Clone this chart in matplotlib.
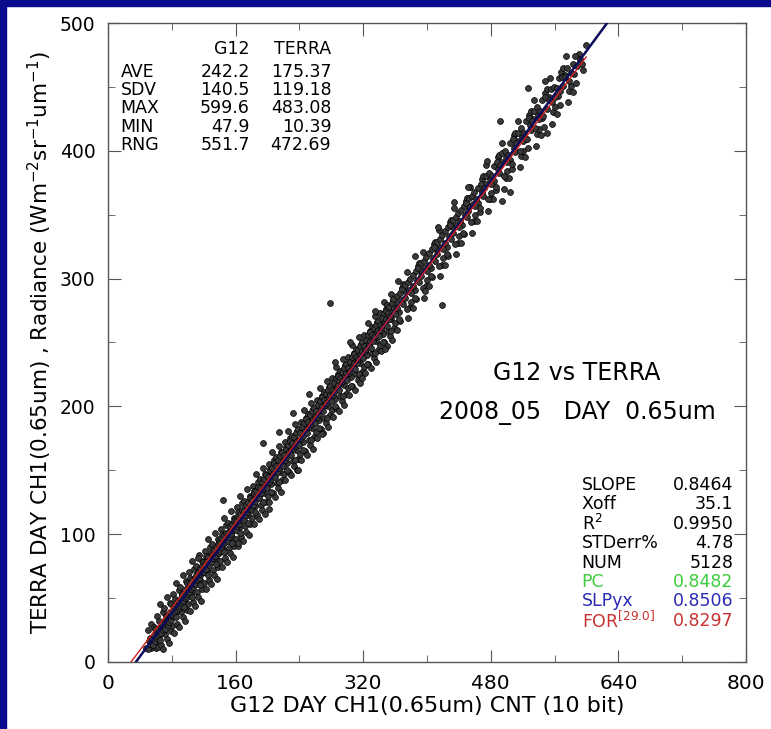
import matplotlib
matplotlib.use("Agg")
import matplotlib.pyplot as plt
from matplotlib.ticker import MultipleLocator

plt.rcParams['font.family'] = ['DejaVu Sans']

# matched G12 counts / TERRA radiances (a sample of the cloud)
# dense core of the cloud
g12 = [48, 50, 51, 53, 55, 56, 58, 59,
       60, 61, 62, 63, 64, 65, 66, 67, 68, 69,
       70, 71, 72, 73, 74, 75, 76, 77, 78, 79,
       80, 81, 82, 83, 84, 85, 86, 87, 88, 89,
       90, 91, 92, 93, 94, 95, 96, 97, 98, 99,
       100, 101, 102, 103, 104, 105, 106, 107, 108, 109,
       110, 111, 112, 113, 114, 115, 116, 117, 118, 119, 113,
       120, 121, 122, 123, 124, 125, 126, 127, 128, 129,
       130, 131, 132, 133, 134, 135, 136, 137, 138, 139,
       140, 141, 142, 143, 144, 145, 146, 147, 148, 149, 144,
       150, 151, 152, 153, 154, 155, 156, 157, 158, 159,
       160, 161, 162, 163, 163, 164, 165, 166, 167, 168, 169,
       170, 171, 172, 173, 174, 175, 176, 177, 178, 179,
       180, 181, 182, 183, 184, 185, 186, 187, 188, 189,
       190, 191, 192, 193, 194, 194, 195, 196, 197, 198, 199,
       200, 201, 202, 203, 204, 205, 206, 207, 208, 209, 202,
       210, 211, 212, 213, 214, 215, 216, 217, 218, 219, 215,
       220, 221, 222, 223, 224, 225, 226, 227, 228, 229,
       230, 231, 232, 233, 234, 235, 236, 237, 238, 239, 232, 238,
       240, 241, 242, 243, 244, 245, 246, 247, 248, 249,
       250, 251, 252, 253, 254, 255, 256, 257, 258, 259, 252,
       260, 261, 262, 263, 264, 265, 266, 267, 268, 269, 268,
       270, 271, 272, 273, 274, 275, 276, 277, 278, 278, 279,
       280, 281, 282, 283, 284, 285, 286, 287, 288, 289, 285,
       290, 291, 292, 293, 294, 295, 296, 297, 298, 299,
       300, 301, 302, 303, 304, 305, 306, 307, 308, 309, 303,
       310, 311, 312, 313, 314, 315, 316, 317, 318, 319, 318,
       320, 321, 322, 323, 324, 325, 326, 327, 328, 329,
       330, 331, 332, 333, 334, 335, 336, 337, 338, 339, 335,
       340, 341, 342, 343, 344, 345, 346, 347, 348, 349, 347,
       350, 351, 352, 353, 354, 355, 356, 357, 358, 359,
       360, 362, 363, 365, 366, 368, 369, 364,
       370, 372, 373, 375, 376, 378, 379,
       380, 382, 383, 385, 386, 388, 389, 385,
       390, 392, 393, 395, 396, 398, 399, 397,
       400, 402, 403, 405, 406, 408, 409,
       410, 412, 413, 415, 416, 418, 419, 419, 414,
       420, 422, 423, 425, 426, 428, 429,
       430, 432, 433, 435, 436, 438, 439, 434,
       440, 442, 443, 445, 446, 448, 449,
       450, 452, 453, 455, 456, 458, 459, 452,
       460, 462, 464, 466, 468, 469,
       470, 472, 474, 476, 478, 479, 475,
       480, 482, 484, 486, 488, 489,
       491, 494, 490, 492, 494, 496, 498, 499,
       500, 502, 504, 504, 506, 508, 509,
       510, 512, 514, 516, 518, 519,
       520, 522, 524, 526, 527, 528, 529,
       530, 532, 534, 536, 538, 539,
       540, 542, 544, 546, 548, 548, 550,
       551, 553, 555, 557, 559,
       561, 563, 565, 567, 569,
       571, 573, 575, 578,
       581, 583, 586, 588,
       592, 596, 599.6]
terra = [11, 10, 16, 14, 18, 13, 21, 16,
         19, 24, 20, 26, 22, 17, 27, 23, 30, 25,
         28, 33, 26, 31, 36, 29, 34, 31, 39, 33,
         36, 41, 37, 44, 39, 35, 45, 41, 48, 42,
         44, 50, 46, 53, 48, 43, 54, 50, 57, 51,
         53, 58, 55, 62, 57, 51, 64, 59, 61, 66,
         61, 68, 64, 70, 66, 60, 73, 69, 75, 70, 81,
         74, 70, 77, 73, 79, 68, 82, 76, 80, 85,
         78, 84, 81, 88, 83, 77, 90, 86, 92, 85,
         87, 93, 90, 97, 92, 86, 99, 94, 101, 96, 127,
         95, 101, 98, 106, 100, 93, 108, 103, 110, 104,
         103, 110, 106, 93, 114, 108, 101, 116, 111, 119, 112,
         111, 118, 115, 123, 117, 109, 125, 120, 128, 121,
         119, 127, 123, 132, 126, 117, 134, 129, 137, 130,
         128, 136, 132, 141, 171, 135, 125, 143, 138, 146, 139,
         136, 145, 141, 150, 143, 133, 152, 147, 156, 148, 120,
         145, 153, 149, 158, 152, 141, 161, 155, 164, 157, 180,
         153, 162, 158, 167, 160, 150, 170, 164, 173, 166,
         162, 171, 167, 176, 169, 158, 179, 173, 182, 174, 195, 150,
         170, 179, 175, 184, 177, 166, 187, 181, 190, 183,
         179, 188, 184, 193, 186, 174, 196, 190, 199, 192, 210,
         187, 196, 192, 201, 194, 183, 204, 198, 207, 200, 178,
         196, 205, 201, 210, 203, 191, 213, 207, 216, 281, 209,
         204, 213, 209, 218, 211, 200, 222, 215, 224, 217, 235,
         213, 222, 218, 227, 220, 208, 230, 224, 233, 226,
         221, 230, 226, 235, 228, 216, 239, 232, 241, 234, 250,
         229, 239, 234, 244, 237, 225, 247, 241, 250, 243, 222,
         238, 247, 243, 252, 245, 233, 256, 249, 258, 251,
         246, 256, 251, 261, 254, 242, 264, 258, 267, 260, 275,
         255, 264, 260, 269, 262, 250, 273, 266, 275, 268, 245,
         263, 273, 268, 278, 271, 259, 281, 275, 284, 277,
         272, 277, 286, 268, 289, 283, 292, 298,
         280, 285, 295, 276, 297, 291, 300,
         289, 294, 303, 285, 306, 299, 308, 318,
         297, 302, 312, 293, 314, 308, 317, 290,
         306, 311, 320, 302, 323, 316, 325,
         314, 319, 329, 310, 331, 325, 334, 279, 340,
         323, 328, 337, 319, 340, 333, 342,
         331, 336, 346, 327, 348, 342, 351, 360,
         340, 345, 354, 336, 357, 350, 359,
         348, 353, 363, 344, 365, 358, 368, 372,
         357, 362, 371, 355, 374, 368,
         365, 371, 380, 362, 383, 377, 392,
         374, 380, 388, 372, 391, 386,
         423, 361, 383, 389, 398, 380, 400, 394,
         391, 397, 368, 406, 390, 409, 402,
         399, 406, 414, 400, 418, 411,
         408, 414, 423, 409, 449, 426, 420,
         416, 423, 431, 418, 434, 428,
         425, 431, 440, 427, 455, 442, 414,
         433, 440, 448, 438, 450,
         442, 449, 457, 447, 458,
         451, 458, 465, 455,
         461, 468, 474, 466,
         472, 463, 483]

# outer, more scattered part of the band
g12_spread = [50.5, 51.5, 52.5, 53.5, 54.5, 55.5, 56.5, 57.5, 58.5, 59.5,
              60.5, 61.5, 62.5, 63.5, 64.5, 65.5, 66.5, 67.5, 68.5, 69.5,
              70.5, 71.5, 72.5, 73.5, 74.5, 75.5, 76.5, 77.5, 78.5, 79.5,
              80.5, 81.5, 82.5, 83.5, 84.5, 85.5, 86.5, 87.5, 88.5, 89.5,
              90.5, 91.5, 92.5, 93.5, 94.5, 95.5, 96.5, 97.5, 98.5, 99.5,
              100.5, 101.5, 102.5, 103.5, 104.5, 105.5, 106.5, 107.5, 108.5, 109.5,
              110.5, 111.5, 112.5, 113.5, 114.5, 115.5, 116.5, 117.5, 118.5, 119.5,
              120.5, 121.5, 122.5, 123.5, 124.5, 125.5, 126.5, 127.5, 128.5, 129.5,
              130.5, 131.5, 132.5, 133.5, 134.5, 135.5, 136.5, 137.5, 138.5, 139.5,
              140.5, 141.5, 142.5, 143.5, 144.5, 145.5, 146.5, 147.5, 148.5, 149.5,
              150.5, 151.5, 152.5, 153.5, 154.5, 155.5, 156.5, 157.5, 158.5, 159.5,
              160.5, 161.5, 162.5, 163.5, 164.5, 165.5, 166.5, 167.5, 168.5, 169.5,
              170.5, 171.5, 172.5, 173.5, 174.5, 175.5, 176.5, 177.5, 178.5, 179.5,
              180.5, 181.5, 182.5, 183.5, 184.5, 185.5, 186.5, 187.5, 188.5, 189.5,
              190.5, 191.5, 192.5, 193.5, 194.5, 195.5, 196.5, 197.5, 198.5, 199.5,
              200.5, 201.5, 202.5, 203.5, 204.5, 205.5, 206.5, 207.5, 208.5, 209.5,
              210.5, 211.5, 212.5, 213.5, 214.5, 215.5, 216.5, 217.5, 218.5, 219.5,
              220.5, 221.5, 222.5, 223.5, 224.5, 225.5, 226.5, 227.5, 228.5, 229.5,
              230.5, 231.5, 232.5, 233.5, 234.5, 235.5, 236.5, 237.5, 238.5, 239.5,
              240.5, 241.5, 242.5, 243.5, 244.5, 245.5, 246.5, 247.5, 248.5, 249.5,
              250.5, 251.5, 252.5, 253.5, 254.5, 255.5, 256.5, 257.5, 258.5, 259.5,
              260.5, 261.5, 262.5, 263.5, 264.5, 265.5, 266.5, 267.5, 268.5, 269.5,
              270.5, 271.5, 272.5, 273.5, 274.5, 275.5, 276.5, 277.5, 278.5, 279.5,
              280.5, 281.5, 282.5, 283.5, 284.5, 285.5, 286.5, 287.5, 288.5, 289.5,
              290.5, 291.5, 292.5, 293.5, 294.5, 295.5, 296.5, 297.5, 298.5, 299.5,
              300.5, 301.5, 302.5, 303.5, 304.5, 305.5, 306.5, 307.5, 308.5, 309.5,
              310.5, 311.5, 312.5, 313.5, 314.5, 315.5, 316.5, 317.5, 318.5, 319.5,
              320.5, 321.5, 322.5, 323.5, 324.5, 325.5, 326.5, 327.5, 328.5, 329.5,
              330.5, 331.5, 332.5, 333.5, 334.5, 335.5, 336.5, 337.5, 338.5, 339.5,
              340.5, 341.5, 342.5, 343.5, 344.5, 345.5, 346.5, 347.5, 348.5, 349.5,
              350.5, 351.5, 352.5, 353.5, 354.5, 355.5, 356.5, 357.5, 358.5, 359.5,
              360.5, 362.5, 364.5, 366.5, 368.5,
              370.5, 372.5, 374.5, 376.5, 378.5,
              380.5, 382.5, 384.5, 386.5, 388.5,
              390.5, 392.5, 394.5, 396.5, 398.5,
              400.5, 402.5, 404.5, 406.5, 408.5,
              410.5, 412.5, 414.5, 416.5, 418.5,
              420.5, 422.5, 424.5, 426.5, 428.5,
              430.5, 432.5, 434.5, 436.5, 438.5,
              440.5, 442.5, 444.5, 446.5, 448.5,
              450.5, 452.5, 454.5, 456.5, 458.5,
              460.5, 462.5, 464.5, 466.5, 468.5,
              470.5, 472.5, 474.5, 476.5, 478.5,
              480.5, 482.5, 484.5, 486.5, 488.5,
              490.5, 492.5, 494.5, 496.5, 498.5,
              500.5, 502.5, 504.5, 506.5, 508.5,
              510.5, 512.5, 514.5, 516.5, 518.5,
              520.5, 522.5, 524.5, 526.5, 528.5,
              530.5, 532.5, 534.5, 536.5, 538.5,
              540.5, 542.5, 544.5, 546.5, 548.5,
              550.5, 552.5, 554.5, 556.5, 558.5,
              560.5, 562.5, 564.5, 566.5, 568.5,
              570.5, 572.5, 574.5, 576.5, 578.5,
              580.5, 582.5, 584.5, 586.5,
              590.5, 594.5]
terra_spread = [25, 12, 19, 11, 30, 14, 13, 27, 15, 26,
                11, 36, 12, 32, 20, 45, 13, 30, 39, 10.5,
                42, 22, 36, 18, 51, 31, 15, 46, 24, 45,
                28, 53, 23, 49, 37, 62, 30, 47, 56, 27,
                59, 39, 53, 35, 68, 48, 32, 63, 41, 62,
                45, 70, 40, 66, 54, 79, 47, 64, 73, 44,
                75, 55, 69, 51, 84, 64, 48, 79, 57, 78,
                62, 87, 57, 83, 71, 96, 64, 81, 90, 61,
                92, 72, 86, 68, 101, 81, 65, 96, 74, 95,
                79, 104, 74, 100, 88, 113, 81, 98, 107, 78,
                109, 89, 103, 85, 118, 98, 82, 113, 91, 112,
                96, 121, 91, 117, 105, 130, 98, 115, 124, 95,
                126, 106, 120, 102, 135, 115, 99, 130, 108, 129,
                113, 138, 108, 134, 122, 147, 115, 132, 141, 112,
                143, 123, 137, 119, 152, 132, 116, 147, 125, 146,
                130, 155, 125, 151, 139, 164, 132, 149, 158, 129,
                160, 140, 154, 136, 169, 149, 133, 164, 142, 163,
                147, 172, 142, 168, 156, 181, 149, 166, 175, 146,
                177, 157, 171, 153, 186, 166, 150, 181, 159, 180,
                163, 188, 158, 184, 172, 197, 165, 182, 191, 162,
                194, 174, 188, 170, 203, 183, 167, 198, 176, 197,
                180, 205, 175, 201, 189, 214, 182, 199, 208, 179,
                211, 191, 205, 187, 220, 200, 184, 215, 193, 214,
                197, 222, 192, 218, 206, 231, 199, 216, 225, 196,
                228, 208, 222, 204, 237, 217, 201, 232, 210, 231,
                214, 239, 209, 235, 223, 248, 216, 233, 242, 213,
                245, 225, 239, 221, 254, 234, 218, 249, 227, 248,
                231, 256, 226, 252, 240, 265, 233, 250, 259, 230,
                262, 242, 256, 238, 271, 251, 235, 266, 244, 265,
                248, 273, 243, 269, 257, 282, 250, 267, 276, 247,
                279, 259, 273, 255, 288, 268, 252, 283, 261, 282,
                265, 260, 274, 267, 293,
                296, 290, 305, 269, 278,
                282, 277, 291, 284, 310,
                312, 306, 321, 285, 294,
                299, 294, 308, 301, 327,
                329, 323, 338, 302, 311,
                316, 311, 325, 318, 344,
                346, 340, 355, 319, 328,
                333, 328, 342, 335, 361,
                363, 357, 372, 336, 345,
                350, 345, 359, 352, 378,
                380, 374, 389, 353, 362,
                367, 362, 376, 369, 395,
                397, 391, 406, 370, 379,
                384, 379, 393, 386, 412,
                414, 408, 423, 387, 396,
                400, 395, 409, 402, 428,
                431, 425, 440, 404, 413,
                417, 412, 426, 419, 445,
                448, 442, 457, 421, 430,
                434, 429, 443, 436, 462,
                465, 459, 474, 438, 447,
                451, 446, 460, 453,
                476, 468]

# statistics boxes
stat_names = ['AVE', 'SDV', 'MAX', 'MIN', 'RNG']
g12_stats = ['242.2', '140.5', '599.6', '47.9', '551.7']
terra_stats = ['175.37', '119.18', '483.08', '10.39', '472.69']

fit_names = ['SLOPE', 'Xoff', 'R$^{2}$', 'STDerr%', 'NUM', 'PC', 'SLPyx',
             'FOR$^{[29.0]}$']
fit_values = ['0.8464', '35.1', '0.9950', '4.78', '5128', '0.8482', '0.8506',
              '0.8297']
fit_colors = ['black', 'black', 'black', 'black', 'black', '#3ccc3c',
              '#2a2ab4', '#c83232']

slope, xoff = 0.8464, 35.1
for_slope, for_off = 0.8297, 29.0
g12_max = 599.6

fig = plt.figure(figsize=(7.71, 7.29), dpi=100)
fig.patch.set_facecolor('white')

# dark blue frame strip on the left and top edges
fig.patches.append(plt.Rectangle((0, 0), 0.008, 1, transform=fig.transFigure,
                                 color='#0a0a8c', zorder=0))
fig.patches.append(plt.Rectangle((0, 0.992), 1, 0.008, transform=fig.transFigure,
                                 color='#0a0a8c', zorder=0))

ax = fig.add_axes([0.140, 0.092, 0.8276, 0.8764])
ax.scatter(g12_spread, terra_spread, s=18, facecolor='#3a3a3a', edgecolor='black',
           linewidth=0.5, zorder=2)
ax.scatter(g12, terra, s=18, facecolor='#3a3a3a', edgecolor='black',
           linewidth=0.5, zorder=2)

# regression line and forced-offset line
ax.plot([xoff, 800], [0, slope * (800 - xoff)], color='#0c0c5a', lw=1.8, zorder=3)
ax.plot([for_off, g12_max], [0, for_slope * (g12_max - for_off)],
        color='#d02020', lw=1.0, zorder=4)

ax.set_xlim(0, 800)
ax.set_ylim(0, 500)
ax.xaxis.set_major_locator(MultipleLocator(160))
ax.xaxis.set_minor_locator(MultipleLocator(80))
ax.yaxis.set_major_locator(MultipleLocator(100))
ax.yaxis.set_minor_locator(MultipleLocator(50))
ax.tick_params(which='both', direction='in', top=True, right=True,
               color='#555555')
ax.tick_params(axis='x', labelsize=14.5)
ax.tick_params(axis='y', labelsize=13.5)
ax.tick_params(which='major', length=9, pad=9)
ax.tick_params(which='minor', length=5)
for sp in ax.spines.values():
    sp.set_color('#555555')
    sp.set_linewidth(1.0)

ax.set_xlabel('G12 DAY CH1(0.65um) CNT (10 bit)', fontsize=16, labelpad=2)
ax.set_ylabel('TERRA DAY CH1(0.65um) , Radiance (Wm$^{-2}$sr$^{-1}$um$^{-1}$)',
              fontsize=15.5, labelpad=4)

# top-left statistics table
ax.text(178, 480, 'G12', ha='right', va='center', fontsize=12.5)
ax.text(280, 480, 'TERRA', ha='right', va='center', fontsize=12.5)
for i, name in enumerate(stat_names):
    yy = 462 - i * 14.4
    ax.text(16, yy, name, ha='left', va='center', fontsize=12.5)
    ax.text(178, yy, g12_stats[i], ha='right', va='center', fontsize=12.5)
    ax.text(280, yy, terra_stats[i], ha='right', va='center', fontsize=12.5)

# title in the middle
ax.text(588, 226, 'G12 vs TERRA', ha='center', va='center', fontsize=17)
ax.text(588, 195, '2008_05   DAY  0.65um', ha='center', va='center', fontsize=17)

# bottom-right fit table
for i, name in enumerate(fit_names):
    yy = 138.5 - i * 15.2
    ax.text(594, yy, name, ha='left', va='center', fontsize=12.5,
            color=fit_colors[i])
    ax.text(784, yy, fit_values[i], ha='right', va='center', fontsize=12.5,
            color=fit_colors[i])

fig.savefig('out.png', dpi=100, facecolor='white')
